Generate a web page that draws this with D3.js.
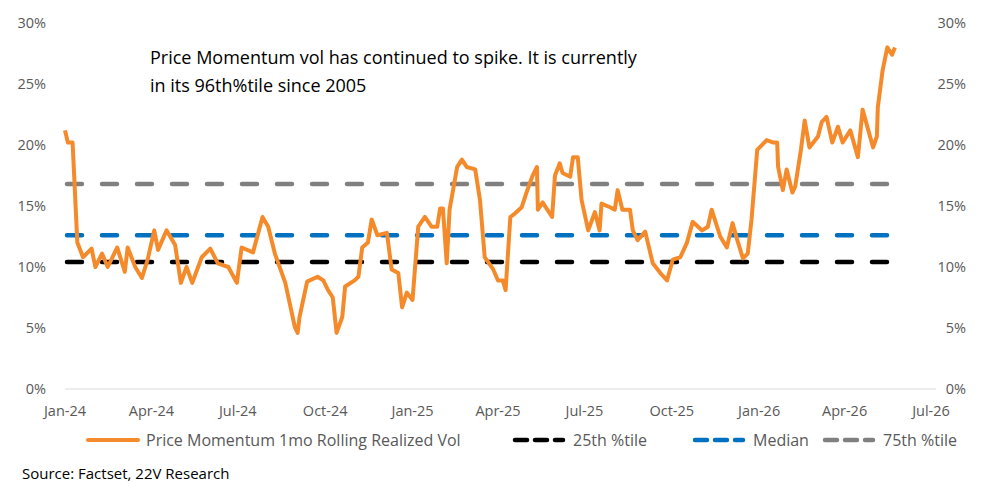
<!DOCTYPE html><html><head><meta charset="utf-8"><script src="https://cdn.jsdelivr.net/npm/d3@7"></script>
<style>body{margin:0;background:#fff}text{font-family:"Open Sans","Noto Sans",sans-serif}</style></head><body><svg id="c" width="1002" height="500"></svg><script>
const days=[0,3,8,13,19,28,32,39,45,55,63,66,74,81,87,94,98,107,116,122,128,134,144,153,161,172,181,186,198,208,214,221,232,242,245,247,255,266,272,277,282,286,292,295,305,309,313,319,323,329,339,344,351,355,360,366,372,379,386,392,395,398,402,405,413,418,423,432,437,442,451,456,461,464,469,474,481,486,492,497,498,503,513,516,521,524,532,535,540,544,551,558,563,565,574,579,582,587,595,598,603,611,619,627,634,640,648,655,661,671,677,681,690,697,703,708,714,719,723,729,739,746,750,751,756,760,766,769,775,779,784,793,797,802,808,814,819,827,835,840,846,851,855,856,861,866,871,874];
const vol=[21.2,20.2,20.2,12,10.8,11.5,10,11.1,10,11.6,9.6,11.6,10,9.1,10.6,13,11.4,13,11.8,8.7,10,8.7,10.8,11.5,10.3,10,8.7,11.6,11.2,14.1,13.3,11.1,8.7,5.1,4.6,5.9,8.8,9.2,8.9,8.1,7.5,4.6,5.9,8.4,8.9,9.2,11.6,12,13.9,12.6,12.8,9.8,9.5,6.7,7.9,7.3,13.3,14.1,13.3,13.3,14.8,14.8,10.3,14.7,18.2,18.8,18.2,18,15.5,10.8,9.8,8.9,8.9,8.1,14.1,14.4,14.9,16.1,17.4,18.2,14.7,15.3,14.1,17.5,18.5,17.7,17.4,19,19,15.5,13,14.5,13,15.2,14.9,14.7,16.3,14.7,14.7,13,12.2,12.9,10.3,9.5,8.9,10.6,10.8,12,13.7,13,13.3,14.7,12.5,11.6,13.6,12.2,10.7,11.1,13.9,19.6,20.4,20.2,20.2,18.2,16.3,18,16.1,16.6,19.6,22,19.8,20.7,21.9,22.3,20.2,21.5,20.2,21.2,19,22.9,21.2,19.8,20.7,23.1,26.1,28,27.4,28,28.6];
const pct25=10.4, median=12.6, pct75=16.8;
const yTicks=[0,5,10,15,20,25,30];
const xTickLabels=["Jan-24","Apr-24","Jul-24","Oct-24","Jan-25","Apr-25","Jul-25","Oct-25","Jan-26","Apr-26","Jul-26"];
const legendLabels=["Price Momentum 1mo Rolling Realized Vol","25th %tile","Median","75th %tile"];
const colors=["#f58a2b","#000000","#0070c0","#808080"];

const svg=d3.select("#c");
const t0=new Date(2024,0,1);
const dt=d=>new Date(t0.getTime()+d*864e5);
const x=d3.scaleTime().domain([t0,new Date(2026,6,1)]).range([65,931]);
const y=d3.scaleLinear().domain([0,30]).range([389,23]);
svg.append("line").attr("x1",65).attr("x2",936).attr("y1",y(0)).attr("y2",y(0)).attr("stroke","#d9d9d9");
const tcol="#595959";
yTicks.forEach(v=>{
 svg.append("text").attr("x",46).attr("y",y(v)+5).attr("text-anchor","end").attr("font-size",14.5).attr("fill",tcol).text(v+"%");
 svg.append("text").attr("x",966).attr("y",y(v)+5).attr("text-anchor","end").attr("font-size",14.5).attr("fill",tcol).text(v+"%");
});
xTickLabels.forEach((l,i)=>{
 const d=new Date(2024,i*3,1);
 svg.append("text").attr("x",x(d)).attr("y",416).attr("text-anchor","middle").attr("font-size",14.5).attr("fill",tcol).text(l);
});
const xEnd=x(dt(days[days.length-1]));
[[pct25,colors[1]],[median,colors[2]],[pct75,colors[3]]].forEach(([v,c])=>{
 svg.append("line").attr("x1",x(t0)).attr("x2",xEnd).attr("y1",y(v)).attr("y2",y(v)).attr("stroke",c).attr("stroke-width",4.5).attr("stroke-dasharray","15 20").attr("stroke-linecap","round").attr("transform","translate(2,0)");
});
const line=d3.line().x((d,i)=>x(dt(days[i]))).y(d=>y(d));
svg.append("path").attr("d",line(vol)).attr("fill","none").attr("stroke",colors[0]).attr("stroke-width",4).attr("stroke-linejoin","round");
svg.append("text").attr("x",150).attr("y",64).attr("font-size",18).attr("fill","#000").text("Price Momentum vol has continued to spike. It is currently");
svg.append("text").attr("x",150).attr("y",92).attr("font-size",18).attr("fill","#000").text("in its 96th%tile since 2005");
const lg=[[88,0],[515,1],[695,2],[825,3]];
lg.forEach(([lx,i])=>{
 if(i===0) svg.append("line").attr("x1",lx).attr("x2",lx+50).attr("y1",440).attr("y2",440).attr("stroke",colors[0]).attr("stroke-width",4).attr("stroke-linecap","round");
 else svg.append("line").attr("x1",lx).attr("x2",lx+48).attr("y1",440).attr("y2",440).attr("stroke",colors[i]).attr("stroke-width",4.5).attr("stroke-dasharray","12 8").attr("stroke-linecap","round");
 svg.append("text").attr("x",lx+58).attr("y",446).attr("font-size",16).attr("fill",tcol).text(legendLabels[i]);
});
svg.append("text").attr("x",22).attr("y",479).attr("font-size",15).attr("fill","#000").text("Source: Factset, 22V Research");
</script></body></html>
